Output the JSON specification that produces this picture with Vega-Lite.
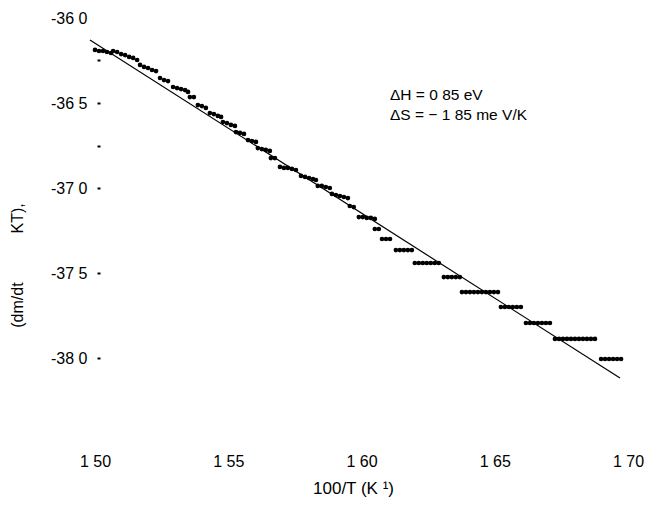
{
  "$schema": "https://vega.github.io/schema/vega-lite/v6.json",
  "autosize": {"type": "none"},
  "width": 533,
  "height": 425,
  "padding": {"left": 95, "top": 18, "right": 18, "bottom": 66},
  "background": "white",
  "config": {
    "view": {"stroke": null},
    "font": "Liberation Sans",
    "axis": {"labelFont": "Liberation Sans", "titleFont": "Liberation Sans", "labelColor": "black", "titleColor": "black", "titleFontWeight": "normal", "grid": false}
  },
  "datasets": {
    "pts": [
      {"x": 1.5000, "y": -36.188}, {"x": 1.5015, "y": -36.194}, {"x": 1.5030, "y": -36.194}, {"x": 1.5045, "y": -36.200}, {"x": 1.5060, "y": -36.206},
      {"x": 1.5068, "y": -36.194}, {"x": 1.5083, "y": -36.200}, {"x": 1.5098, "y": -36.212}, {"x": 1.5113, "y": -36.218}, {"x": 1.5128, "y": -36.229}, {"x": 1.5143, "y": -36.235}, {"x": 1.5158, "y": -36.247},
      {"x": 1.5169, "y": -36.276}, {"x": 1.5184, "y": -36.288}, {"x": 1.5199, "y": -36.294}, {"x": 1.5214, "y": -36.306}, {"x": 1.5229, "y": -36.312},
      {"x": 1.5244, "y": -36.353}, {"x": 1.5259, "y": -36.365}, {"x": 1.5274, "y": -36.371},
      {"x": 1.5293, "y": -36.406}, {"x": 1.5308, "y": -36.412}, {"x": 1.5323, "y": -36.418}, {"x": 1.5338, "y": -36.424}, {"x": 1.5349, "y": -36.435},
      {"x": 1.5356, "y": -36.465}, {"x": 1.5371, "y": -36.465},
      {"x": 1.5386, "y": -36.512}, {"x": 1.5401, "y": -36.518}, {"x": 1.5416, "y": -36.529},
      {"x": 1.5431, "y": -36.559}, {"x": 1.5446, "y": -36.565}, {"x": 1.5461, "y": -36.576}, {"x": 1.5473, "y": -36.582},
      {"x": 1.5480, "y": -36.612}, {"x": 1.5495, "y": -36.618}, {"x": 1.5510, "y": -36.629}, {"x": 1.5525, "y": -36.635},
      {"x": 1.5529, "y": -36.671}, {"x": 1.5544, "y": -36.676}, {"x": 1.5559, "y": -36.682},
      {"x": 1.5574, "y": -36.718}, {"x": 1.5589, "y": -36.724}, {"x": 1.5604, "y": -36.729},
      {"x": 1.5611, "y": -36.765}, {"x": 1.5626, "y": -36.771}, {"x": 1.5641, "y": -36.776}, {"x": 1.5656, "y": -36.782},
      {"x": 1.5660, "y": -36.824}, {"x": 1.5675, "y": -36.824},
      {"x": 1.5694, "y": -36.876}, {"x": 1.5709, "y": -36.882}, {"x": 1.5724, "y": -36.882}, {"x": 1.5739, "y": -36.888}, {"x": 1.5754, "y": -36.894},
      {"x": 1.5773, "y": -36.929}, {"x": 1.5788, "y": -36.935}, {"x": 1.5803, "y": -36.941}, {"x": 1.5818, "y": -36.947}, {"x": 1.5829, "y": -36.953},
      {"x": 1.5836, "y": -36.988}, {"x": 1.5851, "y": -36.988}, {"x": 1.5866, "y": -36.994}, {"x": 1.5881, "y": -37.000},
      {"x": 1.5889, "y": -37.035}, {"x": 1.5904, "y": -37.041}, {"x": 1.5919, "y": -37.047}, {"x": 1.5934, "y": -37.053}, {"x": 1.5949, "y": -37.059},
      {"x": 1.5956, "y": -37.106}, {"x": 1.5971, "y": -37.112},
      {"x": 1.5990, "y": -37.171}, {"x": 1.6005, "y": -37.171}, {"x": 1.6020, "y": -37.176}, {"x": 1.6035, "y": -37.176}, {"x": 1.6050, "y": -37.182},
      {"x": 1.6050, "y": -37.241}, {"x": 1.6065, "y": -37.241},
      {"x": 1.6077, "y": -37.300}, {"x": 1.6092, "y": -37.300}, {"x": 1.6107, "y": -37.300},
      {"x": 1.6129, "y": -37.365}, {"x": 1.6144, "y": -37.365}, {"x": 1.6159, "y": -37.365}, {"x": 1.6174, "y": -37.365}, {"x": 1.6189, "y": -37.365},
      {"x": 1.6200, "y": -37.441}, {"x": 1.6215, "y": -37.441}, {"x": 1.6230, "y": -37.441}, {"x": 1.6245, "y": -37.441}, {"x": 1.6260, "y": -37.441}, {"x": 1.6275, "y": -37.441}, {"x": 1.6290, "y": -37.441},
      {"x": 1.6309, "y": -37.524}, {"x": 1.6324, "y": -37.524}, {"x": 1.6339, "y": -37.524}, {"x": 1.6354, "y": -37.524}, {"x": 1.6369, "y": -37.524},
      {"x": 1.6377, "y": -37.612}, {"x": 1.6392, "y": -37.612}, {"x": 1.6407, "y": -37.612}, {"x": 1.6422, "y": -37.612}, {"x": 1.6437, "y": -37.612}, {"x": 1.6452, "y": -37.612}, {"x": 1.6467, "y": -37.612}, {"x": 1.6482, "y": -37.612}, {"x": 1.6497, "y": -37.612}, {"x": 1.6512, "y": -37.612},
      {"x": 1.6523, "y": -37.700}, {"x": 1.6538, "y": -37.700}, {"x": 1.6553, "y": -37.700}, {"x": 1.6568, "y": -37.700}, {"x": 1.6583, "y": -37.700}, {"x": 1.6598, "y": -37.700},
      {"x": 1.6617, "y": -37.794}, {"x": 1.6632, "y": -37.794}, {"x": 1.6647, "y": -37.794}, {"x": 1.6662, "y": -37.794}, {"x": 1.6677, "y": -37.794}, {"x": 1.6692, "y": -37.794}, {"x": 1.6707, "y": -37.794},
      {"x": 1.6726, "y": -37.888}, {"x": 1.6741, "y": -37.888}, {"x": 1.6756, "y": -37.888}, {"x": 1.6771, "y": -37.888}, {"x": 1.6786, "y": -37.888}, {"x": 1.6801, "y": -37.888}, {"x": 1.6816, "y": -37.888}, {"x": 1.6831, "y": -37.888}, {"x": 1.6846, "y": -37.888}, {"x": 1.6861, "y": -37.888}, {"x": 1.6876, "y": -37.888},
      {"x": 1.6899, "y": -38.006}, {"x": 1.6914, "y": -38.006}, {"x": 1.6929, "y": -38.006}, {"x": 1.6944, "y": -38.006}, {"x": 1.6959, "y": -38.006}, {"x": 1.6974, "y": -38.006}
    ],
    "fit": [
      {"x": 1.4981, "y": -36.129},
      {"x": 1.6970, "y": -38.118}
    ],
    "notes": [
      {"x": 1.6107, "y": -36.453, "label": "ΔH = 0 85 eV"},
      {"x": 1.6107, "y": -36.571, "label": "ΔS = − 1 85 me V/K"}
    ]
  },
  "encoding": {
    "x": {
      "field": "x", "type": "quantitative",
      "scale": {"domain": [1.5, 1.7], "nice": false, "zero": false},
      "axis": {
        "values": [1.5, 1.55, 1.6, 1.65, 1.7],
        "labelExpr": "replace(format(datum.value, '.2f'), '.', ' ')",
        "domain": false, "ticks": false, "labelFlush": false,
        "labelFontSize": 16, "labelPadding": 10,
        "title": "100/T (K ¹)", "titleFontSize": 17, "titlePadding": 11, "titleX": 258
      }
    },
    "y": {
      "field": "y", "type": "quantitative",
      "scale": {"domain": [-38.5, -36.0], "nice": false, "zero": false},
      "axis": {
        "values": [-36.0, -36.25, -36.5, -36.75, -37.0, -37.5, -38.0],
        "labelExpr": "abs(datum.value * 2 - round(datum.value * 2)) < 0.01 ? '-' + replace(format(abs(datum.value), '.1f'), '.', ' ') : ''",
        "domain": false, "offset": -5, "tickSize": 3, "tickWidth": 2, "tickColor": "black",
        "tickOpacity": {"condition": {"test": "datum.value == -36", "value": 0}, "value": 1},
        "labelFontSize": 16, "labelPadding": 10,
        "title": "(dm/dt\u00a0\u00a0\u00a0\u00a0\u00a0\u00a0\u00a0\u00a0\u00a0\u00a0\u00a0KT),", "titleFontSize": 16,
        "titleX": -78, "titleY": 247, "titleBaseline": "alphabetic"
      }
    }
  },
  "layer": [
    {
      "data": {"name": "pts"},
      "mark": {"type": "point", "filled": true, "shape": "circle", "size": 22, "color": "black", "opacity": 1}
    },
    {
      "data": {"name": "fit"},
      "mark": {"type": "line", "color": "black", "strokeWidth": 1.2}
    },
    {
      "data": {"name": "notes"},
      "mark": {"type": "text", "align": "left", "baseline": "middle", "fontSize": 15.5, "font": "Liberation Sans", "color": "black"},
      "encoding": {"text": {"field": "label"}}
    }
  ]
}
